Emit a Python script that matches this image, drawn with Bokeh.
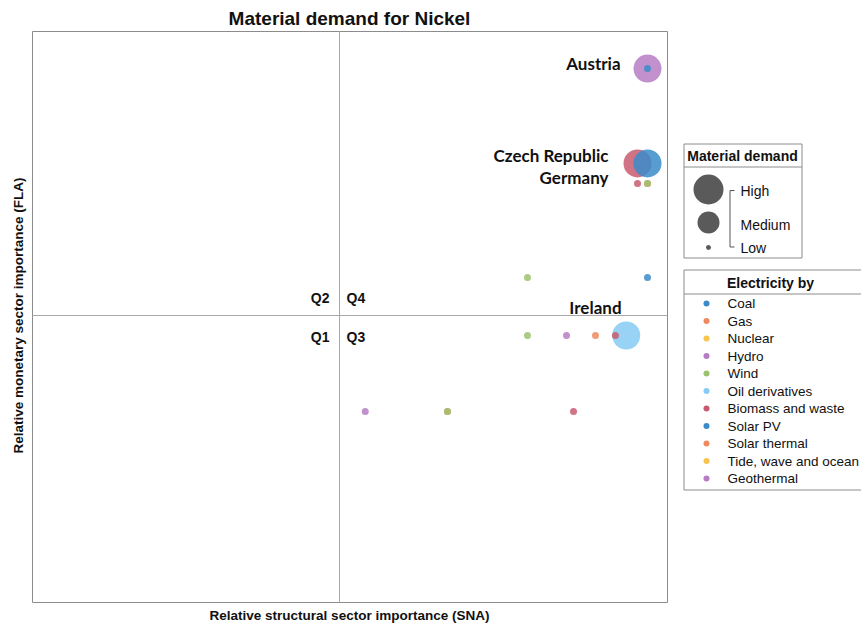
from bokeh.plotting import figure
from bokeh.models import Range1d, ColumnDataSource
from bokeh.layouts import row
from bokeh.embed import file_html
from bokeh.resources import INLINE
from bokeh.core.properties import value

# ---------------- data ----------------
title_text = "Material demand for Nickel"
x_label = "Relative structural sector importance (SNA)"
y_label = "Relative monetary sector importance (FLA)"

energy_sources = ["Coal", "Gas", "Nuclear", "Hydro", "Wind", "Oil derivatives",
                  "Biomass and waste", "Solar PV", "Solar thermal",
                  "Tide, wave and ocean", "Geothermal"]
source_colors = ["#3a8cc9", "#ef8a5e", "#f8c450", "#b67cc4", "#9cc26f", "#86cbf5",
                 "#c85a6e", "#3a8cc9", "#ef8a5e", "#f8c450", "#b67cc4"]
demand_levels = ["High", "Medium", "Low"]

# points (relative importances, 0..1 scale)
point_source = ["Hydro", "Biomass and waste", "Coal", "Oil derivatives",
                "Coal", "Biomass and waste", "Gas", "Wind", "Wind", "Coal",
                "Wind", "Hydro", "Gas", "Biomass and waste",
                "Geothermal", "Gas", "Wind", "Biomass and waste"]
point_demand = ["High", "High", "High", "High",
                "Low", "Low", "Low", "Low", "Low", "Low",
                "Low", "Low", "Low", "Low",
                "Low", "Low", "Low", "Low"]
point_sna = [0.9685, 0.9528, 0.9685, 0.935,
             0.9685, 0.9528, 0.9685, 0.9685, 0.7795, 0.9685,
             0.7795, 0.841, 0.8866, 0.918,
             0.524, 0.6535, 0.6535, 0.852]
point_fla = [0.935, 0.769, 0.769, 0.4676,
             0.935, 0.734, 0.734, 0.734, 0.569, 0.569,
             0.4676, 0.4676, 0.4676, 0.4676,
             0.3345, 0.3345, 0.3345, 0.3345]

sna_threshold = 0.4835
fla_threshold = 0.5026

country_names = ["Austria", "Czech Republic", "Germany", "Ireland"]
quadrant_names = ["Q1", "Q2", "Q3", "Q4"]

# ---------------- styles ----------------
color_of = dict(zip(energy_sources, source_colors))
size_of = {"High": 28, "Medium": 22, "Low": 7}
FONT = "Liberation Sans"
H = 625

# main panel: box of 635 x 571 px placed at (32, 31) in a 670 x H canvas
PX_X, PX_Y = 635.0, 571.0
p = figure(width=670, height=H, output_backend="svg", toolbar_location=None,
           x_range=Range1d(-32 / PX_X, (670 - 32) / PX_X),
           y_range=Range1d((602 - H) / PX_Y, 1 + 31 / PX_Y),
           x_axis_location=None, y_axis_location=None,
           min_border_left=0, min_border_right=0,
           min_border_top=0, min_border_bottom=0)
p.title.visible = False
p.grid.visible = False
p.outline_line_color = None
p.background_fill_color = "white"
p.border_fill_color = "white"

# plot box and quadrant lines
p.quad(left=[0], right=[1], bottom=[0], top=[1], fill_color=None,
       line_color="#8c8c8c", line_width=1)
p.segment(x0=[sna_threshold, 0], x1=[sna_threshold, 1],
          y0=[0, fla_threshold], y1=[1, fla_threshold],
          line_color="#a8a8a8", line_width=1)

src = ColumnDataSource(dict(
    x=point_sna, y=point_fla,
    color=[color_of[s] for s in point_source],
    size=[size_of[d] for d in point_demand],
))
p.scatter("x", "y", source=src, marker="circle", size="size",
          fill_color="color", fill_alpha=0.85, line_color=None)


def lab(fig, x, y, text, size, bold=True, align="center", font=FONT,
        angle=0.0, color="#111111"):
    fig.text(x=[x], y=[y], text=[text], text_font=value(font),
             text_font_size=size,
             text_font_style="bold" if bold else "normal",
             text_align=align, text_baseline="middle",
             angle=angle, text_color=color)


# title and axis labels
lab(p, 0.4992, (602 - 18) / PX_Y, title_text, "19px")
lab(p, 0.4992, (602 - 615) / PX_Y, x_label, "13.5px")
lab(p, (18 - 32) / PX_X, fla_threshold, y_label, "13.5px", angle=1.5708)

# quadrant labels
q_pos = {"Q1": (0.4677, 0.4658, "right"), "Q2": (0.4677, 0.5324, "right"),
         "Q3": (0.4945, 0.4658, "left"), "Q4": (0.4945, 0.5324, "left")}
for q in quadrant_names:
    x, y, a = q_pos[q]
    lab(p, x, y, q, "14px", align=a)

# country labels
c_pos = {"Austria": (0.926, 0.944), "Czech Republic": (0.907, 0.783),
         "Germany": (0.907, 0.744), "Ireland": (0.9276, 0.5166)}
for c in country_names:
    x, y = c_pos[c]
    lab(p, x, y, c, "17px", align="right", font="Lato")

# ---------------- legend panel ----------------
LW = 191
leg = figure(width=LW, height=H, output_backend="svg", toolbar_location=None,
             x_range=Range1d(0, LW), y_range=Range1d(H, 0),
             x_axis_location=None, y_axis_location=None,
             min_border_left=0, min_border_right=0,
             min_border_top=0, min_border_bottom=0)
leg.title.visible = False
leg.grid.visible = False
leg.outline_line_color = None
leg.border_fill_color = "white"
leg.background_fill_color = "white"

# Material demand box
leg.quad(left=[13.5], right=[131.5], top=[143.5], bottom=[257.5],
         fill_color="white", line_color="#8c8c8c", line_width=1)
leg.segment(x0=[13.5], x1=[131.5], y0=[166.5], y1=[166.5],
            line_color="#8c8c8c", line_width=1)
lab(leg, 72, 155, "Material demand", "14px")
leg.scatter(x=[38, 38, 38], y=[189, 222, 247], size=[30, 22, 5],
            marker="circle", fill_color="#5a5a5a", line_color=None)
leg.segment(x0=[59.5, 59.5, 59.5], x1=[59.5, 64, 64],
            y0=[190, 190, 246.5], y1=[246.5, 190, 246.5],
            line_color="#555555", line_width=1)
for lvl, yy in zip(demand_levels, [190, 224, 247]):
    lab(leg, 70, yy, lvl, "14px", bold=False, align="left")

# Electricity by box
leg.quad(left=[13.5], right=[210], top=[269.5], bottom=[489.5],
         fill_color="white", line_color="#8c8c8c", line_width=1)
leg.segment(x0=[13.5], x1=[210], y0=[293.5], y1=[293.5],
            line_color="#8c8c8c", line_width=1)
lab(leg, 100, 282, "Electricity by", "14px")
ys = [303 + 17.5 * i for i in range(len(energy_sources))]
leg.scatter(x=[36] * len(energy_sources), y=ys, size=6, marker="circle",
            fill_color=source_colors, line_color=None)
for s, yy in zip(energy_sources, ys):
    lab(leg, 57, yy, s, "13.5px", bold=False, align="left")

layout = row(p, leg)
open("out.html", "w").write(file_html(layout, INLINE))
